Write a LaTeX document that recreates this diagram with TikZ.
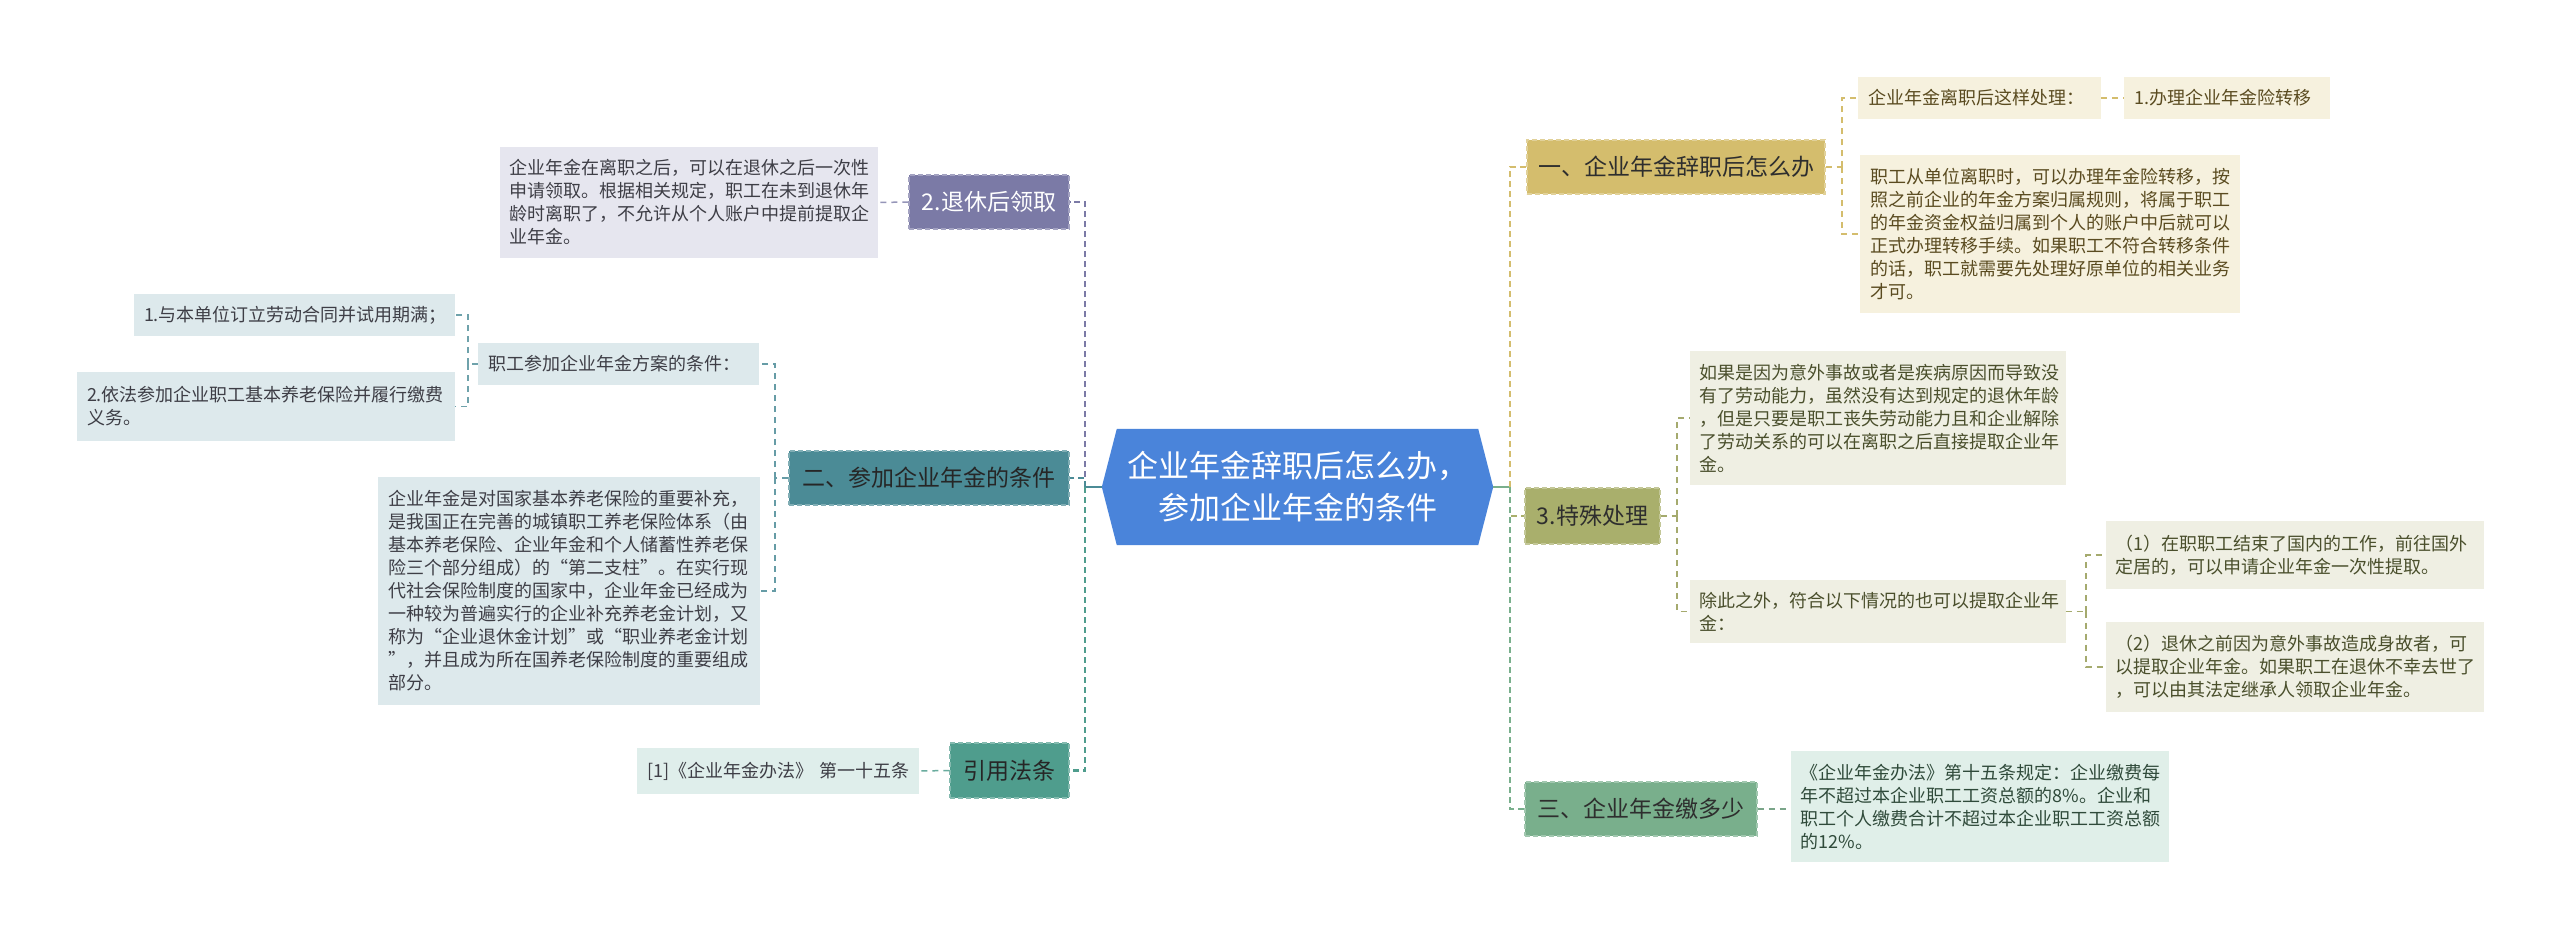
\documentclass[tikz,border=0pt]{standalone}
\usepackage{fontspec}
\setmainfont{Noto Sans CJK SC}
\usetikzlibrary{backgrounds}
\definecolor{cblue}{HTML}{4A84DA}
\definecolor{cpur}{HTML}{7B7AA6}
\definecolor{cteal}{HTML}{4B8B96}
\definecolor{cgrn}{HTML}{4F9D8D}
\definecolor{cgold}{HTML}{D4BD6D}
\definecolor{coliv}{HTML}{A9AF6C}
\definecolor{cmint}{HTML}{79AF8C}
\definecolor{lpur}{HTML}{E6E6EF}
\definecolor{lteal}{HTML}{DDE9EC}
\definecolor{lgrn}{HTML}{DFEEEB}
\definecolor{lgold}{HTML}{F6F1DE}
\definecolor{loliv}{HTML}{EFEFE3}
\definecolor{lmint}{HTML}{E0EFE9}
\definecolor{tgold}{HTML}{5A4B20}
\definecolor{toliv}{HTML}{4A4F2C}
\definecolor{tmint}{HTML}{2F4A3A}
\definecolor{tgrey}{HTML}{3E3E46}
\begin{document}
\begin{tikzpicture}[x=1pt,y=-1pt,
  br/.style={rectangle, fill=#1, draw=#1!70!white, dash pattern=on 5pt off 3pt, line width=1.2pt,
    inner xsep=0pt, inner ysep=0pt, font=\fontsize{23}{28}\selectfont, text=black!82},
  lf/.style={rectangle, fill=#1, inner xsep=10pt, inner ysep=0pt, align=left,
    font=\fontsize{18}{23}\selectfont, text=tgrey},
  mainln/.style={line width=2.4pt, dash pattern=on 6pt off 4pt},
  subln/.style={line width=1.5pt, dash pattern=on 6pt off 5pt},
]
\useasboundingbox (0,0) rectangle (2560,940);

% centre
\node[minimum width=391pt, minimum height=116pt, align=center, text=white,
  font=\fontsize{31}{42}\selectfont] (c) at (1297.5,487)
  {企业年金辞职后怎么办，\\参加企业年金的条件};
\begin{pgfonlayer}{background}
\fill[white] (0,0) rectangle (2560,940);
\fill[cblue] (c.west) -- ([xshift=15pt]c.north west) -- ([xshift=-15pt]c.north east)
  -- (c.east) -- ([xshift=-15pt]c.south east) -- ([xshift=15pt]c.south west) -- cycle;
\end{pgfonlayer}

% left branches
\node[br=cpur, minimum width=160pt, minimum height=54pt, text=white] (b2) at (989,202) {2.退休后领取};
\node[br=cteal, minimum width=280pt, minimum height=54pt, text=black!85] (bb) at (929,478) {二、参加企业年金的条件};
\node[br=cgrn, minimum width=119pt, minimum height=55pt, text=black!85] (bc) at (1009.5,770.5) {引用法条};

% right branches
\node[br=cgold, minimum width=298pt, minimum height=54pt] (b1) at (1676,167) {一、企业年金辞职后怎么办};
\node[br=coliv, minimum width=135pt, minimum height=56pt] (b3) at (1592.5,516) {3.特殊处理};
\node[br=cmint, minimum width=232pt, minimum height=54pt] (b4) at (1641,809) {三、企业年金缴多少};

% left leaves
\node[lf=lpur, text width=358pt, minimum height=111pt] (L1) at (688.5,202.5)
  {企业年金在离职之后，可以在退休之后一次性\\申请领取。根据相关规定，职工在未到退休年\\龄时离职了，不允许从个人账户中提前提取企\\业年金。};
\node[lf=lteal, text width=261pt, minimum height=42pt] (L2) at (618.5,364) {职工参加企业年金方案的条件：};
\node[lf=lteal, text width=301pt, minimum height=42pt] (L2a) at (294.5,315) {1.与本单位订立劳动合同并试用期满；};
\node[lf=lteal, text width=358pt, minimum height=69pt] (L2b) at (266,406.5) {2.依法参加企业职工基本养老保险并履行缴费\\义务。};
\node[lf=lteal, text width=362pt, minimum height=228pt] (L3) at (569,591)
  {企业年金是对国家基本养老保险的重要补充，\\是我国正在完善的城镇职工养老保险体系（由\\基本养老保险、企业年金和个人储蓄性养老保\\险三个部分组成）的“第二支柱”。在实行现\\代社会保险制度的国家中，企业年金已经成为\\一种较为普遍实行的企业补充养老金计划，又\\称为“企业退休金计划”或“职业养老金计划\\”，并且成为所在国养老保险制度的重要组成\\部分。};
\node[lf=lgrn, text width=262pt, minimum height=46pt] (L4) at (778,771) {[1]《企业年金办法》~第一十五条};

% right leaves
\node[lf=lgold, text width=223pt, minimum height=42pt, text=tgold] (R1a) at (1979.5,98) {企业年金离职后这样处理：};
\node[lf=lgold, text width=186pt, minimum height=42pt, text=tgold] (R1c) at (2227,98) {1.办理企业年金险转移};
\node[lf=lgold, text width=360pt, minimum height=158pt, text=tgold] (R1b) at (2050,234)
  {职工从单位离职时，可以办理年金险转移，按\\照之前企业的年金方案归属规则，将属于职工\\的年金资金权益归属到个人的账户中后就可以\\正式办理转移手续。如果职工不符合转移条件\\的话，职工就需要先处理好原单位的相关业务\\才可。};
\node[lf=loliv, text width=356pt, minimum height=134pt, text=toliv] (R2a) at (1877.5,418)
  {如果是因为意外事故或者是疾病原因而导致没\\有了劳动能力，虽然没有达到规定的退休年龄\\，但是只要是职工丧失劳动能力且和企业解除\\了劳动关系的可以在离职之后直接提取企业年\\金。};
\node[lf=loliv, text width=356pt, minimum height=63pt, text=toliv] (R2b) at (1877.5,611.5)
  {除此之外，符合以下情况的也可以提取企业年\\金：};
\node[lf=loliv, text width=358pt, minimum height=68pt, text=toliv] (R3a) at (2294.5,555)
  {（1）在职职工结束了国内的工作，前往国外\\定居的，可以申请企业年金一次性提取。};
\node[lf=loliv, text width=358pt, minimum height=90pt, text=toliv] (R3b) at (2294.5,667)
  {（2）退休之前因为意外事故造成身故者，可\\以提取企业年金。如果职工在退休不幸去世了\\，可以由其法定继承人领取企业年金。};
\node[lf=lmint, text width=358pt, minimum height=111pt, text=tmint] (R4) at (1979.5,806.5)
  {《企业年金办法》第十五条规定：企业缴费每\\年不超过本企业职工工资总额的8\%。企业和\\职工个人缴费合计不超过本企业职工工资总额\\的12\%。};

% junctions
\coordinate (lt) at (1085,487);
\coordinate (rt) at (1510,487);
\coordinate (j2) at (775,478);
\coordinate (j2a) at (468,364);
\coordinate (j3) at (1842,167);
\coordinate (j4) at (1677,516);
\coordinate (j5) at (2086,611.5);

% centre connectors
\draw[cteal, line width=2.4pt] (c.west) -- (lt);
\draw[cmint, line width=2.4pt] (c.east) -- (rt);
\draw[mainln, cpur] (lt) |- (b2.east);
\draw[mainln, cteal] (lt) |- (bb.east);
\draw[mainln, cgrn] (lt) |- (bc.east);
\draw[mainln, cgold] (rt) |- (b1.west);
\draw[mainln, coliv] (rt) |- (b3.west);
\draw[mainln, cmint] (rt) |- (b4.west);

% second level
\draw[subln, cpur!80!white] (b2.west) -- (L1.east);
\draw[subln, cteal!85!white] (bb.west) -- (j2);
\draw[subln, cteal!85!white] (j2) |- (L2.east);
\draw[subln, cteal!85!white] (j2) |- (L3.east);
\draw[subln, cteal!80!white] (L2.west) -- (j2a);
\draw[subln, cteal!80!white] (j2a) |- (L2a.east);
\draw[subln, cteal!80!white] (j2a) |- (L2b.east);
\draw[subln, cgrn!85!white] (bc.west) -- (L4.east);
\draw[subln, cgold] (b1.east) -- (j3);
\draw[subln, cgold] (j3) |- (R1a.west);
\draw[subln, cgold] (j3) |- (R1b.west);
\draw[subln, cgold] (R1a.east) -- (R1c.west);
\draw[subln, coliv!90!gray] (b3.east) -- (j4);
\draw[subln, coliv!90!gray] (j4) |- (R2a.west);
\draw[subln, coliv!90!gray] (j4) |- (R2b.west);
\draw[subln, coliv!90!gray] (R2b.east) -- (j5);
\draw[subln, coliv!90!gray] (j5) |- (R3a.west);
\draw[subln, coliv!90!gray] (j5) |- (R3b.west);
\draw[subln, cmint!80!gray] (b4.east) -- (b4.east -| R4.west);
\end{tikzpicture}
\end{document}
